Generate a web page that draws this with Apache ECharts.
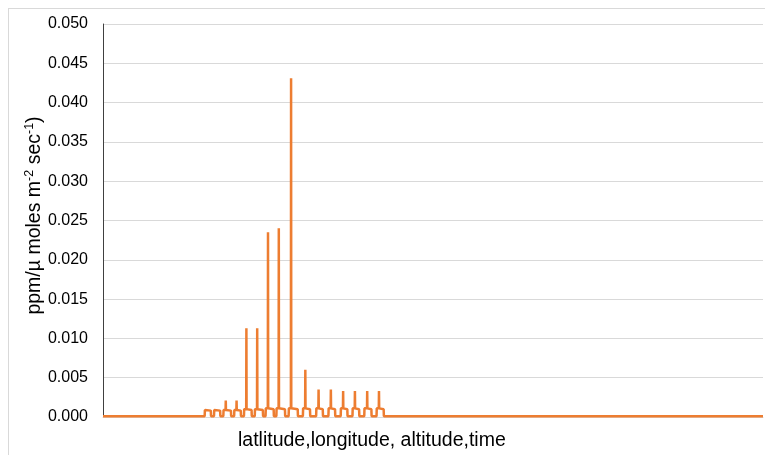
<!DOCTYPE html>
<html>
<head>
<meta charset="utf-8">
<script src="https://cdn.jsdelivr.net/npm/echarts@6/dist/echarts.min.js"></script>
<style>
html,body{margin:0;padding:0;background:#fff;}
#frame{position:absolute;left:8px;top:8px;width:770px;height:460px;border:1px solid #d9d9d9;box-sizing:border-box;}
#c{position:absolute;left:0;top:0;width:765px;height:455px;}
</style>
</head>
<body>
<div id="frame"></div>
<div id="c"></div>
<script>
// time index in hours, 0..1344
const xMax = 1344;
const baseline = 0.0001;
// each pulse: start hour, spike hour (null = no spike), end hour
const pulseStart = [207, 226, 245, 267, 287, 309, 331, 353, 378, 407, 434, 459, 484, 508, 532, 557];
const pulseSpike = [null, null, 250, 272, 292, 314, 336, 358, 383, 412, 439, 464, 489, 513, 538, 562];
const pulseEnd   = [220, 239, 261, 281, 303, 326, 348, 371, 397, 422, 448, 473, 498, 522, 547, 572];
const pulsePeak  = [0.0009, 0.0009, 0.0021, 0.0021, 0.0113, 0.0113, 0.0235, 0.0240, 0.0431, 0.0060, 0.0035, 0.0035, 0.0033, 0.0033, 0.0033, 0.0033];
const pulsePlateau = [0.0009, 0.0009, 0.0009, 0.0009, 0.0010, 0.0010, 0.0011, 0.0011, 0.0011, 0.0011, 0.0011, 0.0011, 0.0011, 0.0011, 0.0011, 0.0011];
const yTicks = ['0.000','0.005','0.010','0.015','0.020','0.025','0.030','0.035','0.040','0.045','0.050'];

const pts = [[0, baseline]];
for (let i = 0; i < pulseStart.length; i++) {
  const s = pulseStart[i], e = pulseEnd[i], p = pulsePlateau[i];
  pts.push([s, baseline]);
  pts.push([s + 0.5, p]);
  if (pulseSpike[i] !== null) {
    const k = pulseSpike[i];
    pts.push([k - 0.4, p]);
    pts.push([k, pulsePeak[i]]);
    pts.push([k + 0.4, p]);
  }
  pts.push([e - 0.5, p * 0.9]);
  pts.push([e, baseline]);
}
pts.push([xMax, baseline]);

const FONT = 'Liberation Sans, Arial, sans-serif';
const chart = echarts.init(document.getElementById('c'), null, {renderer: 'canvas'});
chart.setOption({
  animation: false,
  grid: {left: 103, right: 2, top: 24, bottom: 38},
  xAxis: {
    type: 'value', min: 0, max: xMax,
    axisLine: {show: true, lineStyle: {color: '#d9d9d9', width: 1}},
    axisTick: {show: false}, axisLabel: {show: false}, splitLine: {show: false}
  },
  yAxis: {
    type: 'value', min: 0, max: 0.05, interval: 0.005,
    axisLine: {show: true, lineStyle: {color: '#404040', width: 1}},
    axisTick: {show: false},
    axisLabel: {color: '#000', fontSize: 16, fontFamily: FONT, margin: 15,
      formatter: v => yTicks[Math.round(v / 0.005)]},
    splitLine: {lineStyle: {color: '#d9d9d9', width: 1}},
    name: '{a|ppm/µ moles m}{s|-2}{a| sec}{s|-1}{a|)}',
    nameLocation: 'middle', nameGap: 58, nameRotate: 90,
    nameMoveOverlap: false,
    nameTextStyle: {
      padding: [0, 0, 0, 10],
      rich: {
        a: {fontSize: 19.5, color: '#000', fontFamily: FONT, verticalAlign: 'bottom', lineHeight: 22},
        s: {fontSize: 12.5, color: '#000', fontFamily: FONT, verticalAlign: 'top', lineHeight: 22, padding: [0,0,9,0]}
      }
    }
  },
  graphic: [{
    type: 'text', left: 238, top: 431,
    style: {text: 'latlitude,longitude, altitude,time', fontSize: 19.5, fill: '#000', fontFamily: FONT}
  }],
  series: [{
    type: 'line', data: pts, showSymbol: false, smooth: false,
    lineStyle: {color: '#ED7D31', width: 2.5},
    itemStyle: {color: '#ED7D31'}
  }]
});
</script>
</body>
</html>
